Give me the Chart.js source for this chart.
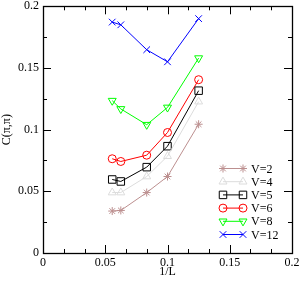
<!DOCTYPE html>
<html>
<head>
<meta charset="utf-8">
<script src="https://cdn.jsdelivr.net/npm/chart.js@4.4.0/dist/chart.umd.min.js"></script>
<style>
  body { margin: 0; background: #fff; }
  #wrap { width: 300px; height: 281px; position: relative; }
</style>
</head>
<body>
<div id="wrap"><canvas id="myChart" width="300" height="281"></canvas></div>
<script>
// 1/L values (L = 18, 16, 12, 10, 8)
var invL = [0.0556, 0.0625, 0.0833, 0.1, 0.125];

var labels = ['V=2', 'V=4', 'V=5', 'V=6', 'V=8', 'V=12'];
var v2  = [0.034, 0.0345, 0.049, 0.062, 0.1044];
var v4  = [0.049, 0.049, 0.062, 0.0785, 0.1227];
var v5  = [0.0596, 0.058, 0.0696, 0.0866, 0.1316];
var v6  = [0.0764, 0.0742, 0.0793, 0.0977, 0.1405];
var v8  = [0.1235, 0.1168, 0.104, 0.118, 0.158];
var v12 = [0.1872, 0.185, 0.1648, 0.155, 0.190];

var xTicks = [0, 0.05, 0.1, 0.15, 0.2];
var yTicks = [0, 0.05, 0.1, 0.15, 0.2];

var series = [v2, v4, v5, v6, v8, v12];
var colors = ['#bc8f8f', '#dcdcdc', '#000000', '#ff0000', '#00ff00', '#0000ff'];
var styles = ['star', 'triangle', 'rect', 'circle', 'triangle', 'crossRot'];
var rots   = [0, 0, 0, 0, 180, 0];
var radii  = [4, 4.6, 5.3, 4, 4.6, 4.7];

var FONT = 'Liberation Serif, Times New Roman, serif';

function pts(vals) {
    var out = [];
    for (var i = 0; i < vals.length; i++) out.push({x: invL[i], y: vals[i]});
    return out;
}

var datasets = [];
for (var i = 0; i < series.length; i++) {
    datasets.push({
        label: labels[i],
        data: pts(series[i]),
        showLine: true,
        borderColor: colors[i],
        backgroundColor: 'rgba(0,0,0,0)',
        borderWidth: 1,
        pointStyle: styles[i],
        pointRotation: rots[i],
        pointRadius: radii[i],
        pointBorderWidth: 1,
        pointBorderColor: colors[i],
        pointBackgroundColor: 'rgba(0,0,0,0)'
    });
}

// inner ticks on all four sides + frame
var frame = {
    id: 'frame',
    afterDraw: function(chart) {
        var ctx = chart.ctx, a = chart.chartArea;
        var xs = chart.scales.x, ys = chart.scales.y;
        ctx.save();
        ctx.strokeStyle = '#000';
        ctx.lineWidth = 1;
        ctx.beginPath();
        var n, v, p, len;
        for (n = 0; n <= 12; n++) {
            v = n * 0.05 / 3;
            p = Math.round(xs.getPixelForValue(v)) + 0.5;
            len = (n % 3 === 0) ? 8 : 4;
            ctx.moveTo(p, a.bottom); ctx.lineTo(p, a.bottom - len);
            ctx.moveTo(p, a.top); ctx.lineTo(p, a.top + len);
        }
        for (n = 0; n <= 8; n++) {
            v = n * 0.025;
            p = Math.round(ys.getPixelForValue(v)) + 0.5;
            len = (n % 2 === 0) ? 8 : 4;
            ctx.moveTo(a.left, p); ctx.lineTo(a.left + len, p);
            ctx.moveTo(a.right, p); ctx.lineTo(a.right - len, p);
        }
        ctx.stroke();
        ctx.lineWidth = 1.3;
        ctx.strokeRect(Math.round(a.left) + 0.5, Math.round(a.top) + 0.5,
                       Math.round(a.right - a.left), Math.round(a.bottom - a.top));
        ctx.restore();
    }
};

// legend inside the plot, lower right
var innerLegend = {
    id: 'innerLegend',
    afterDraw: function(chart) {
        var ctx = chart.ctx, a = chart.chartArea;
        var x1 = a.right - 69, x2 = a.right - 49, tx = a.right - 41;
        var y0 = a.bottom - 84.5, dy = 13.2;
        ctx.save();
        ctx.font = '12px ' + FONT;
        ctx.textBaseline = 'middle';
        ctx.textAlign = 'left';
        chart.data.datasets.forEach(function(ds, i) {
            var y = y0 + i * dy;
            ctx.strokeStyle = ds.borderColor;
            ctx.fillStyle = 'rgba(0,0,0,0)';
            ctx.lineWidth = 1;
            ctx.beginPath();
            ctx.moveTo(x1, y); ctx.lineTo(x2, y);
            ctx.stroke();
            var o = {pointStyle: ds.pointStyle, rotation: ds.pointRotation, radius: ds.pointRadius, borderWidth: 1};
            Chart.helpers.drawPoint(ctx, o, x1, y);
            Chart.helpers.drawPoint(ctx, o, x2, y);
            ctx.fillStyle = '#000';
            ctx.fillText(ds.label, tx, y + 1);
        });
        ctx.restore();
    }
};

function fmt(v) { return String(Number(v.toFixed(3))); }

var config = {
    type: 'scatter',
    data: { datasets: datasets },
    options: {
        responsive: false,
        animation: false,
        events: [],
        layout: { padding: { left: 0, top: 6, right: 8, bottom: 0 } },
        plugins: { legend: { display: false }, tooltip: { enabled: false } },
        scales: {
            x: {
                type: 'linear',
                min: 0, max: 0.2,
                afterBuildTicks: function(s) { s.ticks = xTicks.map(function(v) { return {value: v}; }); },
                afterFit: function(s) { s.height = 28; s.paddingLeft = 0; s.paddingRight = 0; },
                grid: { display: false, drawTicks: false },
                border: { display: false },
                ticks: { color: '#000', padding: 3, maxRotation: 0, font: { family: FONT, size: 12 },
                         callback: function(v) { return fmt(v); } },
                title: { display: true, text: '1/L', color: '#000', padding: { top: 0, bottom: 2 },
                         font: { family: FONT, size: 12 } }
            },
            y: {
                type: 'linear',
                min: 0, max: 0.2,
                afterBuildTicks: function(s) { s.ticks = yTicks.map(function(v) { return {value: v}; }); },
                afterFit: function(s) { s.width = 43; s.paddingTop = 0; s.paddingBottom = 0; },
                grid: { display: false, drawTicks: false },
                border: { display: false },
                ticks: { color: '#000', padding: 4, font: { family: FONT, size: 12 },
                         callback: function(v) { return fmt(v); } },
                title: { display: true, text: 'C(π,π)', color: '#000', padding: 0,
                         font: { family: FONT, size: 12 } }
            }
        }
    },
    plugins: [frame, innerLegend]
};

var ctx = document.getElementById('myChart').getContext('2d');
window.myChart = new Chart(ctx, config);
</script>
</body>
</html>
